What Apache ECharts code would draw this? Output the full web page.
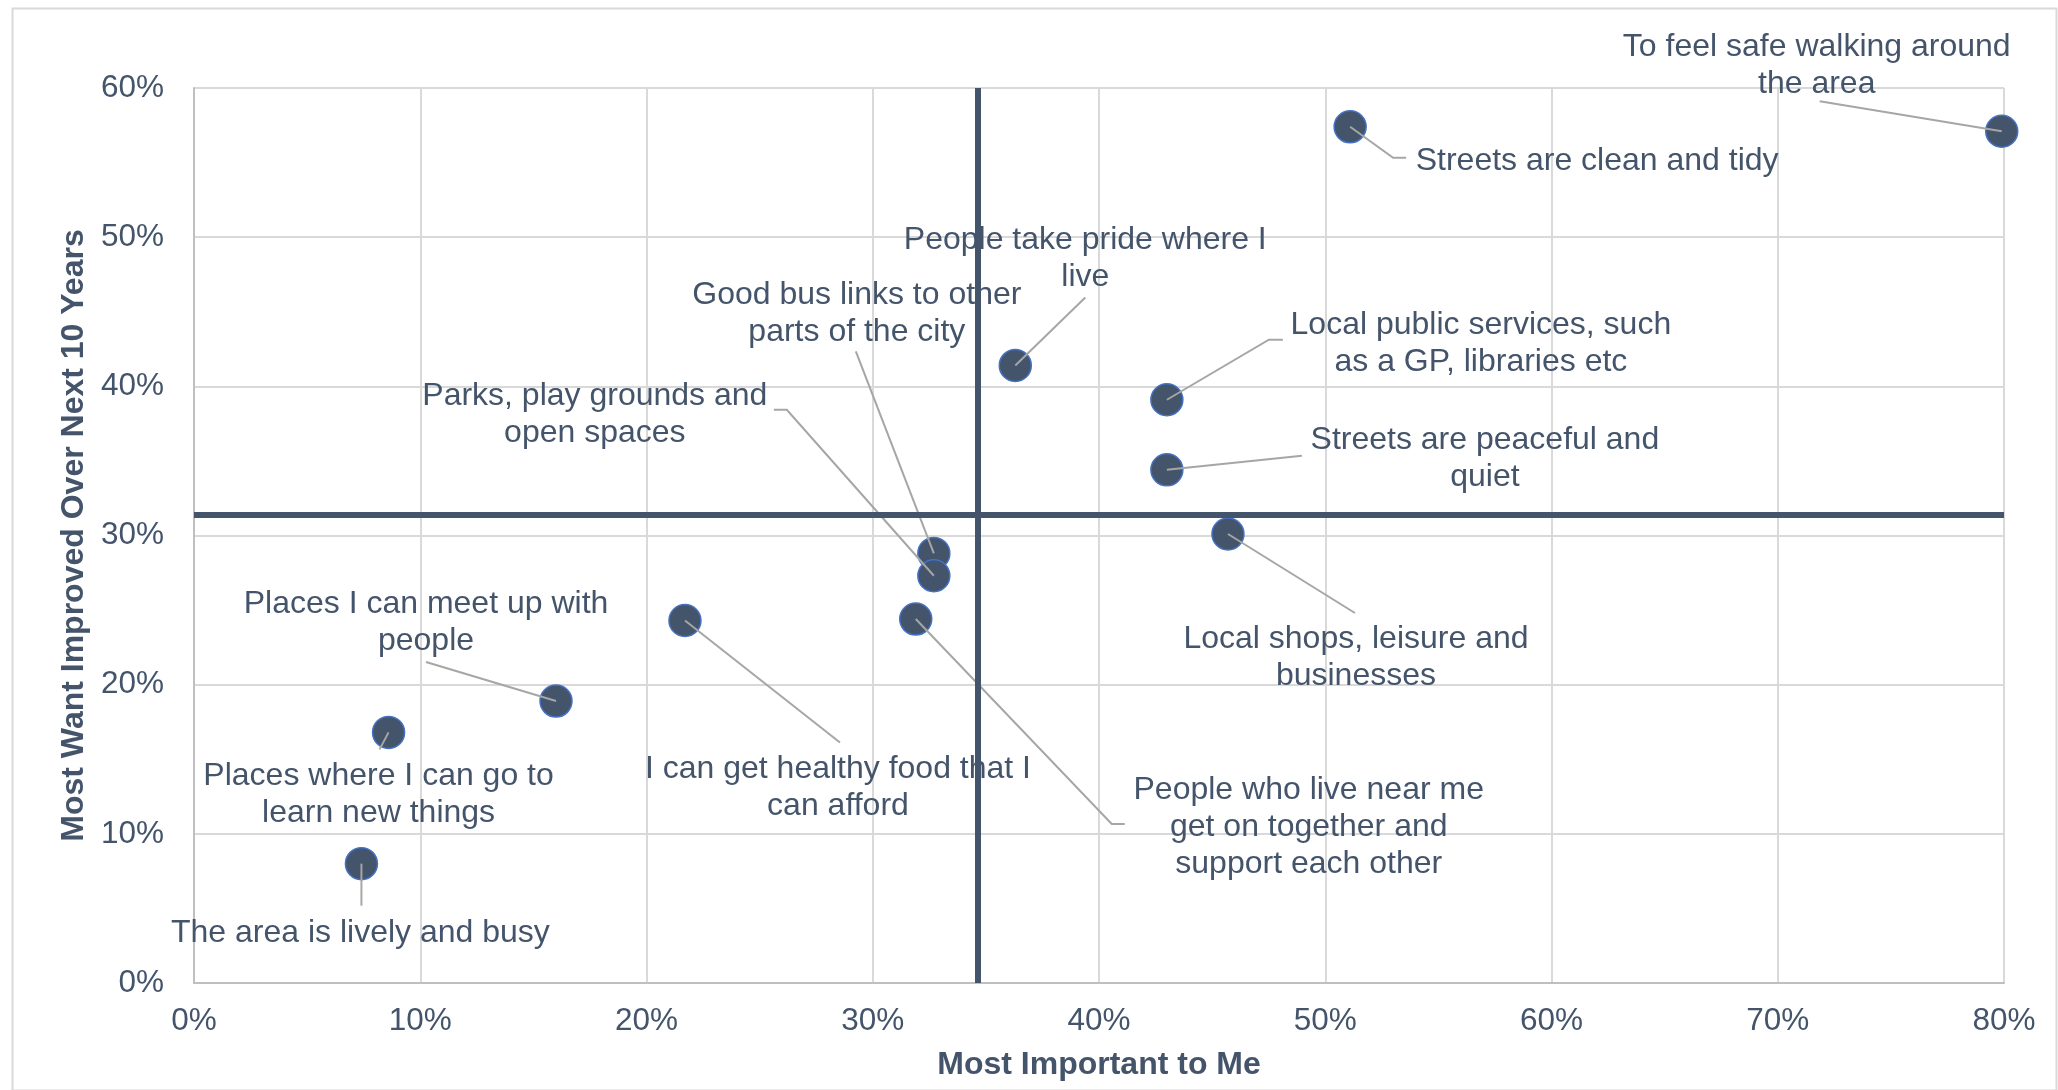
<!DOCTYPE html>
<html>
<head>
<meta charset="utf-8">
<script src="https://cdn.jsdelivr.net/npm/echarts@6/dist/echarts.min.js"></script>
<style>
html,body{margin:0;padding:0;background:#ffffff;}
#chart{width:2058px;height:1090px;}
</style>
</head>
<body>
<div id="chart"></div>
<script>
// ---- data ----
const labels = [
  "To feel safe walking around\nthe area",
  "Streets are clean and tidy",
  "People take pride where I\nlive",
  "Local public services, such\nas a GP, libraries etc",
  "Streets are peaceful and\nquiet",
  "Local shops, leisure and\nbusinesses",
  "Good bus links to other\nparts of the city",
  "Parks, play grounds and\nopen spaces",
  "People who live near me\nget on together and\nsupport each other",
  "I can get healthy food that I\ncan afford",
  "Places I can meet up with\npeople",
  "Places where I can go to\nlearn new things",
  "The area is lively and busy"
];
const mostImportant = [79.9, 51.1, 36.3, 43.0, 43.0, 45.7, 32.7, 32.7, 31.9, 21.7, 16.0, 8.6, 7.4];
const mostWantImproved = [57.1, 57.4, 41.4, 39.1, 34.4, 30.1, 28.8, 27.3, 24.4, 24.3, 18.9, 16.8, 8.0];
const xTickMax = 80, yTickMax = 60, tickStep = 10;

// ---- label layout (pixel offsets from each point) ----
const textOffsets = [
  [-185, -66], [247, 34], [70, -107], [314, -56], [318, -11], [128, 124],
  [-77, -240], [-339, -161], [393, 208], [153, 167], [-130, -78], [-10, 62], [-1, 70]
];
const leaderPaths = [
  [[-182, -30]],
  [[43, 31], [56, 31]],
  [[70, -68]],
  [[102, -60], [116, -60]],
  [[135, -14]],
  [[127, 79]],
  [[-78, -202]],
  [[-147, -166], [-160, -166]],
  [[196, 205], [209, 205]],
  [[155, 122]],
  [[-130, -39]],
  [[-9, 17]],
  [[0, 42]]
];

const meanX = mostImportant.reduce((a, b) => a + b, 0) / mostImportant.length;
const meanY = mostWantImproved.reduce((a, b) => a + b, 0) / mostWantImproved.length;

const TEXT = '#44546A';
const FONT = '"Liberation Sans", Arial, sans-serif';
const points = mostImportant.map((x, i) => [x, mostWantImproved[i]]);

const chart = echarts.init(document.getElementById('chart'), null, {renderer: 'canvas'});
chart.setOption({
  animation: false,
  backgroundColor: '#ffffff',
  graphic: [{
    type: 'rect', left: 10, top: 6, z: -10,
    shape: {width: 2044, height: 1082},
    style: {fill: 'none', stroke: '#D9D9D9', lineWidth: 2}
  }],
  grid: {left: 194, right: 54, top: 88, bottom: 107, containLabel: false},
  xAxis: {
    type: 'value', min: 0, max: xTickMax, interval: tickStep,
    name: 'Most Important to Me', nameLocation: 'middle', nameGap: 66,
    nameTextStyle: {color: TEXT, fontFamily: FONT, fontSize: 32, fontWeight: 'bold'},
    axisLine: {show: true, lineStyle: {color: '#BFBFBF', width: 2}},
    axisTick: {show: false},
    axisLabel: {color: TEXT, fontFamily: FONT, fontSize: 31.5, margin: 22, formatter: '{value}%'},
    splitLine: {show: true, lineStyle: {color: '#D9D9D9', width: 2}}
  },
  yAxis: {
    type: 'value', min: 0, max: yTickMax, interval: tickStep,
    name: 'Most Want Improved Over Next 10 Years', nameLocation: 'middle', nameGap: 102,
    nameTextStyle: {color: TEXT, fontFamily: FONT, fontSize: 32, fontWeight: 'bold'},
    axisLine: {show: true, lineStyle: {color: '#BFBFBF', width: 2}},
    axisTick: {show: false},
    axisLabel: {color: TEXT, fontFamily: FONT, fontSize: 31.5, margin: 30, formatter: '{value}%'},
    splitLine: {show: true, lineStyle: {color: '#D9D9D9', width: 2}}
  },
  series: [
    {
      type: 'scatter', z: 2,
      data: points,
      symbol: 'circle', symbolSize: 32,
      itemStyle: {color: '#44546A', borderColor: '#4472C4', borderWidth: 1.5, opacity: 1},
      silent: true
    },
    {
      type: 'custom', z: 3, clip: false, silent: true,
      data: points,
      renderItem: function (params, api) {
        const i = params.dataIndex;
        const p = api.coord([api.value(0), api.value(1)]);
        const pts = [p].concat(leaderPaths[i].map(o => [p[0] + o[0], p[1] + o[1]]));
        const t = textOffsets[i];
        return {
          type: 'group',
          children: [
            {type: 'polyline', shape: {points: pts}, style: {stroke: '#A6A6A6', lineWidth: 2, fill: null}},
            {type: 'text', style: {
              text: labels[i], x: p[0] + t[0], y: p[1] + t[1],
              align: 'center', verticalAlign: 'middle',
              fontFamily: FONT, fontSize: 32, lineHeight: 37, fill: TEXT
            }}
          ]
        };
      }
    },
    {
      type: 'scatter', z: 4, data: [], silent: true,
      markLine: {
        silent: true, symbol: ['none', 'none'], animation: false,
        label: {show: false},
        lineStyle: {color: '#44546A', width: 6, type: 'solid'},
        emphasis: {disabled: true},
        data: [{xAxis: meanX}, {yAxis: meanY}]
      }
    }
  ]
});
</script>
</body>
</html>
